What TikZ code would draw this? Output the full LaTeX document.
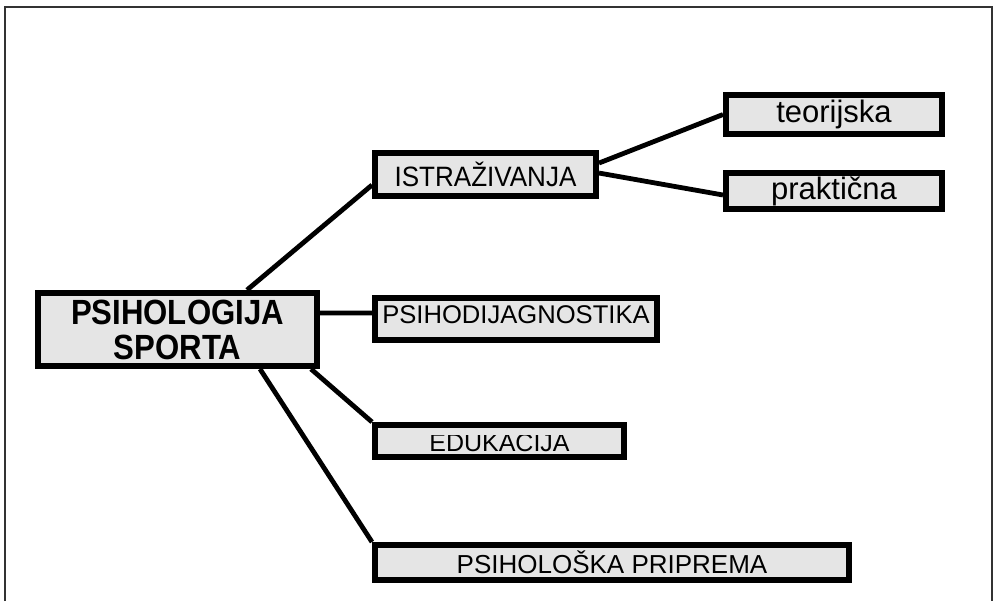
\documentclass[tikz,border=0pt]{standalone}
\usepackage{fontspec}
\setmainfont{Liberation Sans}
\usepackage{graphicx}
\definecolor{boxgray}{RGB}{229,229,229}
\pgfdeclarelayer{bg}
\pgfsetlayers{bg,main}
\begin{document}
\begin{tikzpicture}[x=0.75pt,y=-0.75pt,
  box/.style={draw=black, line width=4.5pt, fill=boxgray, inner sep=0pt, rectangle, text=black},
  link/.style={line width=3.6pt, black},
  frameline/.style={line width=1.5pt, black!80}]
\useasboundingbox (0,0) rectangle (993,601);
\draw[frameline] (5,601) -- (5,6.5) -- (991.5,6.5) -- (991.5,601);

\node[box, minimum width=209.25pt, minimum height=54.75pt, align=center,
      font=\bfseries\fontsize{26.25pt}{26.25pt}\selectfont] (root) at (177.5,329.5)
      {\scalebox{0.89}[1]{PSIHOLOGIJA}\\\scalebox{0.89}[1]{SPORTA}};
\node[box, minimum width=165.75pt, minimum height=32.25pt,
      font=\fontsize{21pt}{24pt}\selectfont] (istr) at (485.5,174.5) {\scalebox{0.93}[1]{ISTRAŽIVANJA}};
\node[box, minimum width=162pt, minimum height=29.25pt,
      font=\fontsize{23.25pt}{26pt}\selectfont] (teo) at (834,114.5) {teorijska};
\node[box, minimum width=162pt, minimum height=27pt,
      font=\fontsize{23.25pt}{26pt}\selectfont] (prak) at (834,191) {praktična};
\node[box, minimum width=211.5pt, minimum height=31.5pt, text height=13.75pt, text depth=7.5pt,
      font=\fontsize{19.2pt}{22pt}\selectfont] (dij) at (516,319) {PSIHODIJAGNOSTIKA};
\node[box, minimum width=186.75pt, minimum height=24pt, text height=16.4pt, text depth=0pt,
      font=\fontsize{18.75pt}{22pt}\selectfont] (edu) at (499.5,441) {EDUKACIJA};
\fill[boxgray] (378,427.6) rectangle (621,435.2);
\node[box, minimum width=355.5pt, minimum height=26.25pt,
      font=\fontsize{19.5pt}{22pt}\selectfont] (psih) at (612,562.5) {PSIHOLOŠKA PRIPREMA};

\begin{pgfonlayer}{bg}
\fill[white] (0,0) rectangle (993,601);
\draw[link] ([xshift=159pt]root.north west) -- ([yshift=-7.875pt]istr.west);
\draw[link] ([yshift=8.6pt]istr.east) -- (teo.west);
\draw[link] ([yshift=1.1pt]istr.east) -- ([yshift=-3pt]prak.west);
\draw[link] ([yshift=12.4pt]root.east) -- ([yshift=4.5pt]dij.west);
\draw[link] ([xshift=-6.75pt]root.south east) -- (edu.north west);
\draw[link] ([xshift=-45pt]root.south east) -- (psih.north west);
\end{pgfonlayer}
\end{tikzpicture}
\end{document}
